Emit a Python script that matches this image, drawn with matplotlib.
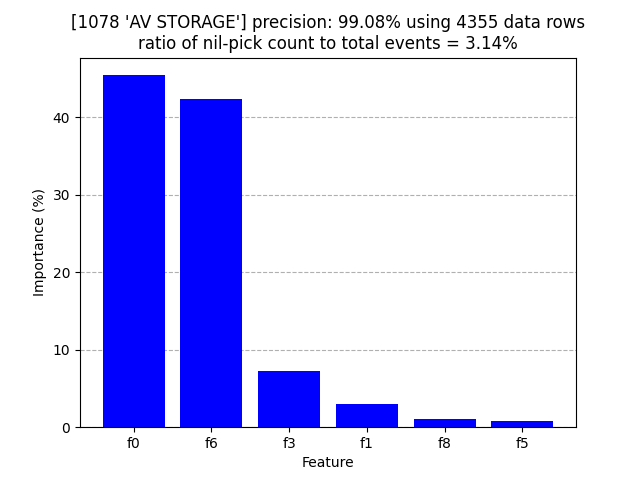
import matplotlib
matplotlib.use("Agg")
import matplotlib.pyplot as plt

features = ["f0", "f6", "f3", "f1", "f8", "f5"]
importance = [45.4, 42.3, 7.2, 3.0, 1.0, 0.8]

fig, ax = plt.subplots(figsize=(6.4, 4.8), dpi=100)
ax.bar(features, importance, color="blue")
ax.yaxis.grid(True, linestyle="--", color="#b0b0b0")
ax.set_axisbelow(True)
ax.set_xlabel("Feature")
ax.set_ylabel("Importance (%)")
ax.set_title("[1078 'AV STORAGE'] precision: 99.08% using 4355 data rows\n"
             "ratio of nil-pick count to total events = 3.14%")
fig.savefig("out.png")
